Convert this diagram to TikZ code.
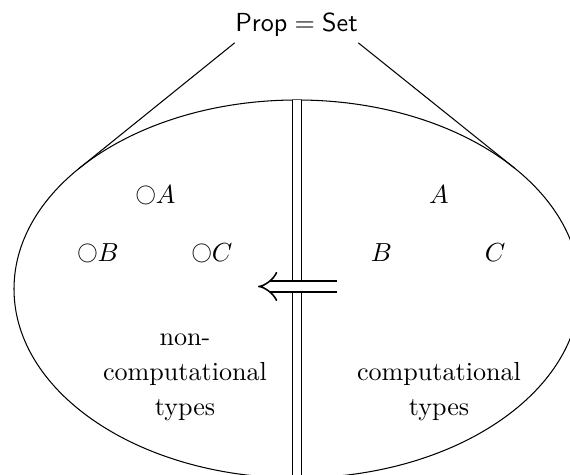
\documentclass[tikz,border=0pt]{standalone}
\usepackage{graphicx}
\usetikzlibrary{arrows.meta,calc}
\newcommand\myring{\raisebox{1.4pt}{\scalebox{0.78}{$\bigcirc$}}}
\begin{document}
\begin{tikzpicture}[x=0.3831pt,y=-0.3831pt,
  lbl/.style={inner sep=0pt, anchor=base},
  grp/.style={inner sep=0pt, align=center, font=\fontsize{10}{13.4}\selectfont},
  edge/.style={line width=0.4pt},
  dbl/.style={double, double distance=3.3pt, line width=0.4pt}]
\useasboundingbox (0,0) rectangle (570,475);
\clip (0,0) rectangle (570,475);
\coordinate (c) at (297,289);
\draw[edge] (c) ellipse (283 and 189);
\coordinate (top) at (297,100);
\coordinate (bot) at (297,490);
\draw[dbl] (top) -- (bot);
\node[inner xsep=0pt, inner ysep=2pt, anchor=base] (prop) at (296.5,32) {$\textsf{Prop} = \textsf{Set}$};
\coordinate (tl) at ($(c)+(219.5:283 and 189)$);
\coordinate (tr) at ($(c)+(320.3:283 and 189)$);
\draw[edge] (prop.south west) -- (tl);
\draw[edge] (prop.south east) -- (tr);
\node[lbl] (la) at (155.5,204) {\myring$A$};
\node[lbl] (lb) at (98,262) {\myring$B$};
\node[lbl] (lc) at (212,262) {\myring$C$};
\node[lbl] (ra) at (439,204) {$A$};
\node[lbl] (rb) at (381.5,262) {$B$};
\node[lbl] (rc) at (495,262) {$C$};
\node[grp, anchor=base] (ln) at (185,415) {non-\\computational\\types};
\node[grp, anchor=base] (rn) at (439,415) {computational\\types};
\coordinate (as) at (337,286.5);
\coordinate (ae) at (258,286.5);
\draw[double, double distance=3.4pt, line width=0.6pt, -{Implies[scale=1.35]}] (as) -- (ae);
\end{tikzpicture}
\end{document}
